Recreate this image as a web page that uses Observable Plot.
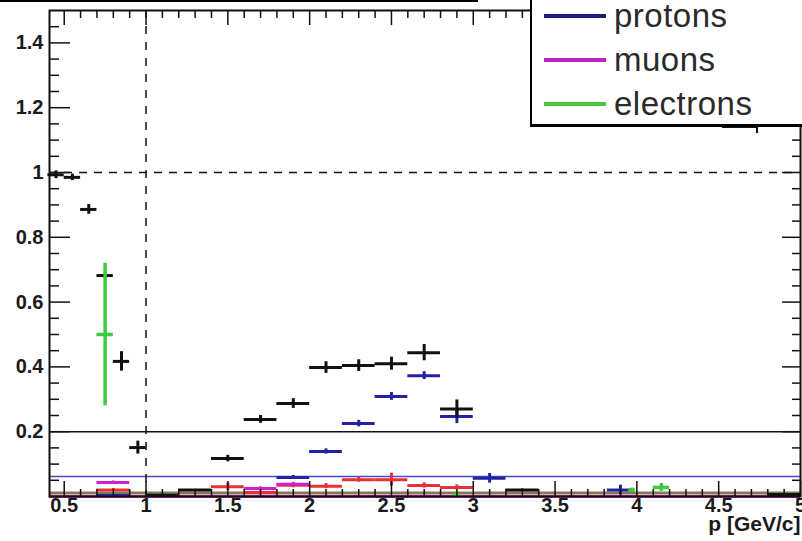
<!DOCTYPE html>
<html>
<head>
<meta charset="utf-8">
<script src="https://cdn.jsdelivr.net/npm/d3@7"></script>
<script src="https://cdn.jsdelivr.net/npm/@observablehq/plot@0.6"></script>
<style>
  body { margin: 0; background: #fff; }
  #wrap { position: relative; width: 802px; height: 541px; overflow: hidden;
          font-family: "Liberation Sans", Arial, sans-serif; background: #fff; }
  #wrap svg { position: absolute; left: 0; top: 0; }
  .titlebox { position: absolute; left: -4px; top: -40px; width: 478px; height: 40px;
              border: 2px solid #000; border-top: none; background: #fff; }
  .legend { position: absolute; left: 530px; top: -40px; width: 290px; height: 162px;
            border: 2px solid #000; border-bottom-width: 3px; background: #fff; }
  .legend .row { position: absolute; left: 12px; height: 40px; display: flex; align-items: center; }
  .legend .sw { width: 62px; height: 4px; margin-right: 8px; }
  .legend .lb { font-size: 33px; color: #2a2a2a; letter-spacing: 0.5px; }
  .stub { position: absolute; left: 722px; top: 126px; width: 34px; height: 5px;
          border-top: 2px solid #111; border-right: 2px solid #111; }
</style>
</head>
<body>
<div id="wrap"></div>
<script>
// Momentum axis tick labels and efficiency axis tick labels
const xMajor = [0.5, 1, 1.5, 2, 2.5, 3, 3.5, 4, 4.5, 5];
const xLabels = ["0.5", "1", "1.5", "2", "2.5", "3", "3.5", "4", "4.5", "5"];
const yMajor = [0.2, 0.4, 0.6, 0.8, 1, 1.2, 1.4];
const yLabels = ["0.2", "0.4", "0.6", "0.8", "1", "1.2", "1.4"];

// Black series (pions): bin centre, half width, value, error
const pionX   = [0.45, 0.55, 0.65, 0.75, 0.85, 0.95, 1.1, 1.3, 1.5, 1.7, 1.9, 2.1, 2.3, 2.5, 2.7, 2.9, 3.3, 4.9];
const pionHW  = [0.05, 0.05, 0.05, 0.05, 0.05, 0.05, 0.1, 0.1, 0.1, 0.1, 0.1, 0.1, 0.1, 0.1, 0.1, 0.1, 0.1, 0.1];
const pionV   = [0.993, 0.985, 0.886, 0.682, 0.417, 0.151, 0.004, 0.02, 0.117, 0.238, 0.287, 0.398, 0.404, 0.41, 0.444, 0.27, 0.02, 0.006];
const pionE   = [0.012, 0.01, 0.015, 0.008, 0.03, 0.02, 0, 0.002, 0.01, 0.012, 0.015, 0.018, 0.018, 0.02, 0.025, 0.028, 0.003, 0];

// Protons
const protonX  = [0.8, 1.9, 2.1, 2.3, 2.5, 2.7, 2.9, 3.1, 3.9];
const protonHW = [0.1, 0.1, 0.1, 0.1, 0.1, 0.1, 0.1, 0.1, 0.08];
const protonV  = [0.003, 0.059, 0.139, 0.225, 0.309, 0.373, 0.247, 0.056, 0.02];
const protonE  = [0, 0.006, 0.008, 0.01, 0.012, 0.012, 0.022, 0.015, 0.015];

// Kaons (red)
const kaonX  = [0.8, 1.5, 1.7, 1.9, 2.1, 2.3, 2.5, 2.7, 2.9];
const kaonHW = [0.1, 0.1, 0.1, 0.1, 0.1, 0.1, 0.1, 0.1, 0.1];
const kaonV  = [0.02, 0.03, 0.012, 0.035, 0.032, 0.052, 0.052, 0.034, 0.028];
const kaonE  = [0.005, 0.012, 0.005, 0.008, 0.008, 0.008, 0.02, 0.008, 0.008];

// Muons
const muonX  = [0.8, 1.1, 1.7, 1.9];
const muonHW = [0.1, 0.1, 0.1, 0.1];
const muonV  = [0.043, 0.0, 0.025, 0.038];
const muonE  = [0.005, 0, 0.005, 0.005];

// Electrons
const elecX  = [0.75, 2.9, 3.97, 4.15];
const elecHW = [0.05, 0.02, 0.02, 0.05];
const elecV  = [0.5, 0.004, 0.02, 0.028];
const elecE  = [0.22, 0.004, 0.006, 0.012];

// Reference levels drawn across the plot
const cutLevel = 0.2;
const protonLevel = 0.062;
const unity = 1;
const pCut = 1;
const floorLevel = 0.011;

const colors = {pion: "#111111", proton: "#2222a6", kaon: "#e8303a", muon: "#cc22cc", elec: "#3ccc3c"};

function rows(xs, hw, v, e) {
  return xs.map((x, i) => ({x, lo: x - hw[i], hi: x + hw[i], v: v[i], v1: v[i] - e[i], v2: v[i] + e[i]}));
}
const series = [
  {key: "kaon", data: rows(kaonX, kaonHW, kaonV, kaonE), w: 3},
  {key: "muon", data: rows(muonX, muonHW, muonV, muonE), w: 3},
  {key: "proton", data: rows(protonX, protonHW, protonV, protonE), w: 3},
  {key: "pion", data: rows(pionX, pionHW, pionV, pionE), w: 3},
  {key: "elec", data: rows(elecX, elecHW, elecV, elecE), w: 3.5}
];

const W = 802, H = 541, mT = 10, mB = 45, mL = 49, mR = 2;
const fh = H - mT - mB, fw = W - mL - mR;

const xMinor = d3.range(0.5, 5.001, 0.1).map(d => +d.toFixed(2)).filter(d => !xMajor.some(m => Math.abs(m - d) < 1e-6));
const yMinor = d3.range(0.05, 1.5, 0.05).map(d => +d.toFixed(2)).filter(d => !yMajor.some(m => Math.abs(m - d) < 1e-6));

const marks = [
  // reference lines
  Plot.ruleY([floorLevel], {stroke: "#85794f", strokeWidth: 3}),
  Plot.ruleY([0], {stroke: colors.muon, strokeWidth: 3}),
  Plot.ruleY([protonLevel], {stroke: "#4848c8", strokeWidth: 1.5}),
  Plot.ruleY([cutLevel], {stroke: "#111", strokeWidth: 1.6}),
  Plot.ruleY([unity], {stroke: "#111", strokeWidth: 1.5, strokeDasharray: "8,7"}),
  Plot.ruleX([pCut], {stroke: "#111", strokeWidth: 1.5, strokeDasharray: "8,8"})
];

for (const s of series) {
  marks.push(Plot.ruleY(s.data, {y: "v", x1: "lo", x2: "hi", stroke: colors[s.key], strokeWidth: s.w}));
  marks.push(Plot.ruleX(s.data, {x: "x", y1: "v1", y2: "v2", stroke: colors[s.key], strokeWidth: s.w}));
}

marks.push(
  // axis ticks on all four sides, pointing inward
  Plot.tickX(xMajor, {x: d => d, insetTop: fh - 15, stroke: "#111", strokeWidth: 1.5}),
  Plot.tickX(xMinor, {x: d => d, insetTop: fh - 7, stroke: "#111", strokeWidth: 1.5}),
  Plot.tickX(xMajor, {x: d => d, insetBottom: fh - 15, stroke: "#111", strokeWidth: 1.5}),
  Plot.tickX(xMinor, {x: d => d, insetBottom: fh - 8, stroke: "#111", strokeWidth: 1.5}),
  Plot.tickY(yMajor, {y: d => d, insetRight: fw - 21, stroke: "#111", strokeWidth: 1.5}),
  Plot.tickY(yMinor, {y: d => d, insetRight: fw - 10, stroke: "#111", strokeWidth: 1.5}),
  Plot.tickY(yMajor, {y: d => d, insetLeft: fw - 18, stroke: "#111", strokeWidth: 1.5}),
  Plot.tickY(yMinor, {y: d => d, insetLeft: fw - 8, stroke: "#111", strokeWidth: 1.5}),
  Plot.frame({stroke: "#111", strokeWidth: 2}),
  // tick labels
  Plot.text(yMajor, {y: d => d, text: (d, i) => yLabels[i], frameAnchor: "left", dx: -6, textAnchor: "end",
    fontSize: 20, fontWeight: "bold", fill: "#1a1a1a"}),
  Plot.text(xMajor, {x: d => d, text: (d, i) => xLabels[i], frameAnchor: "bottom", dy: 15,
    fontSize: 20, fontWeight: "bold", fill: "#1a1a1a"}),
  Plot.text(["p [GeV/c]"], {frameAnchor: "bottom-right", dy: 34, dx: 0, textAnchor: "end",
    fontSize: 21, fontWeight: "bold", fill: "#1a1a1a"})
);

const chart = Plot.plot({
  width: W, height: H,
  marginTop: mT, marginBottom: mB, marginLeft: mL, marginRight: mR,
  style: {fontFamily: "'Liberation Sans', Arial, sans-serif", background: "transparent", overflow: "visible"},
  x: {domain: [0.41, 5.0], axis: null},
  y: {domain: [0, 1.5], axis: null},
  marks
});

const wrap = document.getElementById("wrap");
wrap.appendChild(chart);

const title = document.createElement("div");
title.className = "titlebox";
wrap.appendChild(title);

const stub = document.createElement("div");
stub.className = "stub";
wrap.appendChild(stub);

// legend box (upper entries lie above the page edge)
const legendItems = [
  {label: "protons", color: "#1c1c86"},
  {label: "muons", color: "#c020c0"},
  {label: "electrons", color: "#44c844"}
];
const legend = document.createElement("div");
legend.className = "legend";
legendItems.forEach((it, i) => {
  const row = document.createElement("div");
  row.className = "row";
  row.style.top = (34 + i * 44) + "px";
  const sw = document.createElement("div");
  sw.className = "sw";
  sw.style.background = it.color;
  const lb = document.createElement("span");
  lb.className = "lb";
  lb.textContent = it.label;
  row.appendChild(sw);
  row.appendChild(lb);
  legend.appendChild(row);
});
wrap.appendChild(legend);
</script>
</body>
</html>
